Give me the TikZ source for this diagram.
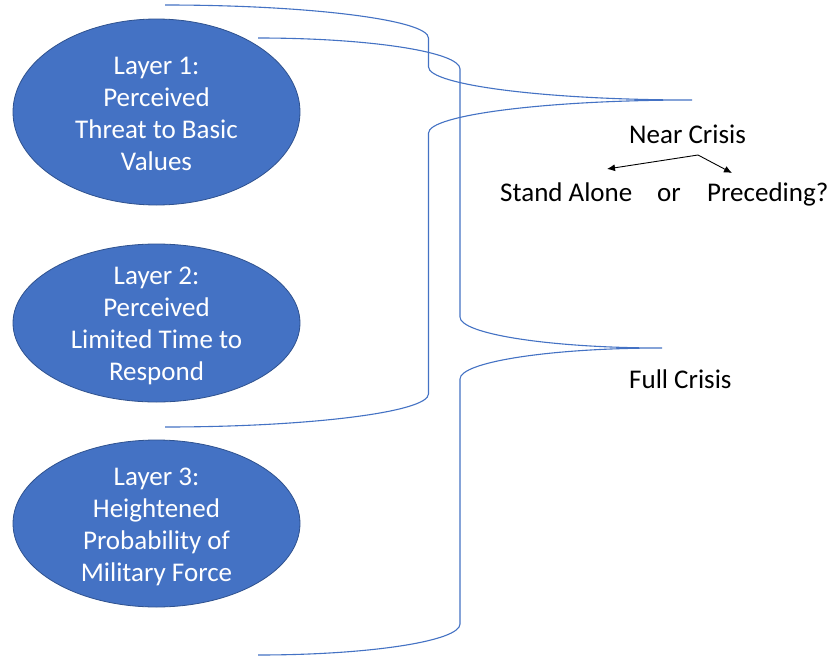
\documentclass[tikz,border=0pt]{standalone}
\usepackage{fontspec}
\setmainfont{Carlito}
\usetikzlibrary{shapes.geometric,arrows.meta}
\definecolor{officeblue}{HTML}{4472C4}
\definecolor{edgeblue}{HTML}{2F528F}
\tikzset{
  layer/.style={ellipse, fill=officeblue, draw=edgeblue, line width=0.8pt, inner sep=0pt},
  layertext/.style={text=white, align=center, font=\fontsize{27}{32}\selectfont, inner sep=0pt},
  label/.style={text=black, font=\fontsize{27}{32}\selectfont, inner sep=0pt, anchor=base west},
  brace/.style={draw=officeblue, line width=1.1pt},
  choice/.style={draw=black, line width=0.9pt, -{Latex[length=8pt,width=7pt]}}
}
\begin{document}
\begin{tikzpicture}[x=1pt,y=-1pt]
\useasboundingbox (0,0) rectangle (828,656);
\fill[white] (0,0) rectangle (828,656);

% ellipses
\node[layer, minimum width=287pt, minimum height=186pt] (L1) at (156.5,112) {};
\node[layer, minimum width=287pt, minimum height=158pt] (L2) at (156.5,323) {};
\node[layer, minimum width=287pt, minimum height=167pt] (L3) at (156.5,523.5) {};
\node[layertext] (T1) at ([yshift=-1.5pt]L1.center) {Layer 1:\\Perceived\\Threat to Basic\\Values};
\node[layertext] (T2) at ([yshift=-3pt]L2.center) {Layer 2:\\Perceived\\Limited Time to\\Respond};
\node[layertext] (T3) at ([yshift=-3.5pt]L3.center) {Layer 3:\\Heightened\\Probability of\\Military Force};

% brace 1 (Layers 1-2 -> Near Crisis)
\coordinate (b1top) at (165,5);
\coordinate (b1tip) at (692,100);
\coordinate (b1bot) at (165,427);
\draw[brace] (b1top) .. controls (310,5) and (428.5,20) .. (428.5,38)
  -- (428.5,67) .. controls (428.5,85) and (546,100) .. (b1tip)
  .. controls (546,100) and (428.5,115) .. (428.5,133)
  -- (428.5,394) .. controls (428.5,412) and (310,427) .. (b1bot);

% brace 2 (Layers 1-3 -> Full Crisis)
\coordinate (b2top) at (258,38);
\coordinate (b2tip) at (662,348);
\coordinate (b2bot) at (258,655);
\draw[brace] (b2top) .. controls (370,38) and (460,52) .. (460,69)
  -- (460,317) .. controls (460,334) and (550,348) .. (b2tip)
  .. controls (550,348) and (460,362) .. (460,379)
  -- (460,624) .. controls (460,641) and (370,655) .. (b2bot);

% right labels
\node[label] (near) at (629,143) {Near Crisis};
\node[label] (stand) at (500,201) {Stand Alone};
\node[label] (or) at (657,201) {or};
\node[label] (prec) at (707,201) {Preceding?};
\node[label] (full) at (629,388) {Full Crisis};

% choice arrows
\coordinate (apex) at (698,155);
\coordinate (toStand) at (607,169);
\coordinate (toPrec) at (732,173);
\draw[choice] (apex) -- (toStand);
\draw[choice] (apex) -- (toPrec);
\end{tikzpicture}
\end{document}
